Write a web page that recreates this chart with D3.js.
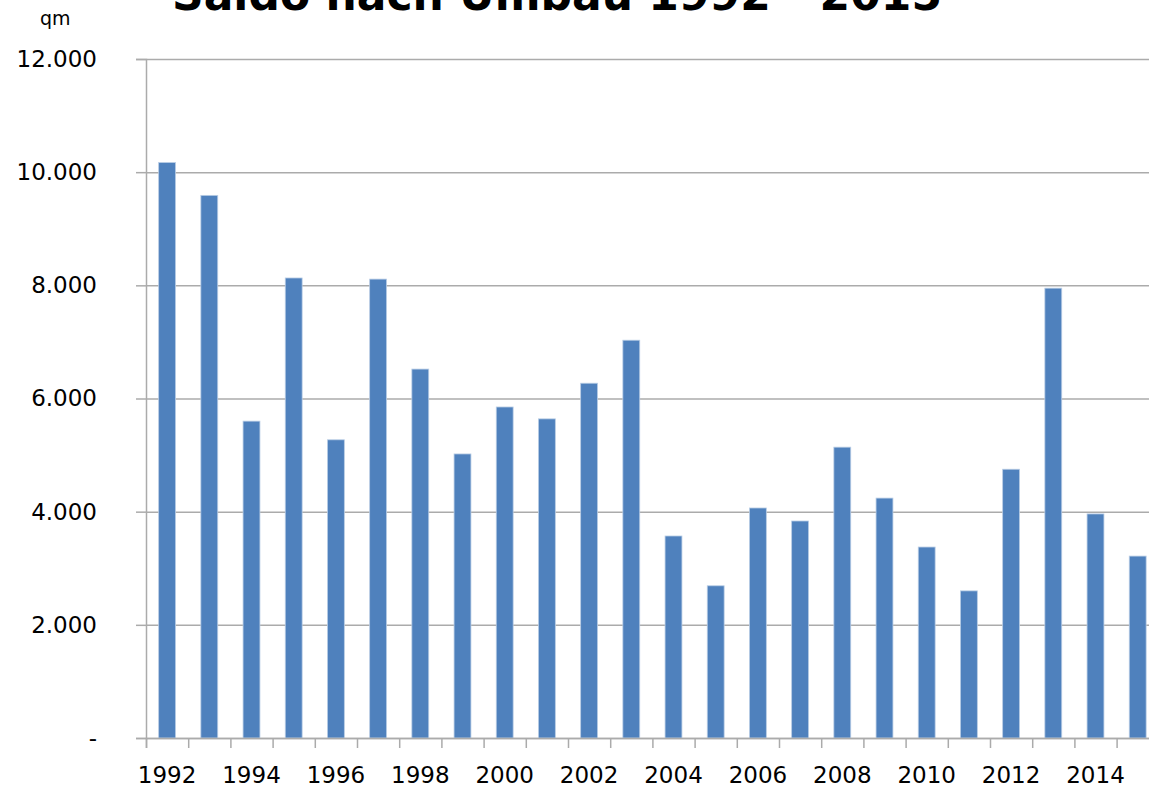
<!DOCTYPE html>
<html>
<head>
<meta charset="utf-8">
<script src="https://cdn.jsdelivr.net/npm/d3@7"></script>
<style>
  body { margin: 0; background: #fff; }
  svg { display: block; overflow: hidden; }
  svg text { font-family: 'DejaVu Sans', sans-serif; }
</style>
</head>
<body>
<svg id="chart"></svg>
<script>
// Daten (Saldo in qm)
var jahre = [1992, 1993, 1994, 1995, 1996, 1997, 1998, 1999, 2000, 2001, 2002, 2003,
             2004, 2005, 2006, 2007, 2008, 2009, 2010, 2011, 2012, 2013, 2014, 2015];
var saldo = [10170, 9590, 5600, 8130, 5270, 8110, 6520, 5020, 5850, 5640, 6270, 7030,
             3570, 2690, 4065, 3835, 5140, 4240, 3375, 2600, 4750, 7950, 3960, 3215];
var yTickWerte = [0, 2000, 4000, 6000, 8000, 10000, 12000];
var yTickTexte = ["-", "2.000", "4.000", "6.000", "8.000", "10.000", "12.000"];
var xBeschriftung = [1992, 1994, 1996, 1998, 2000, 2002, 2004, 2006, 2008, 2010, 2012, 2014];
var titel = "Saldo nach Umbau 1992 - 2015";
var einheit = "qm";

var breite = 1149,
    hoehe = 789;
var links = 146,
    oben = 59,
    unten = 738,
    schritt = 42.2,
    rechts = links + jahre.length * schritt;

var svg = d3.select("#chart")
    .attr("width", breite)
    .attr("height", hoehe);

// Skalen
var x = d3.scaleBand()
    .domain(jahre)
    .range([links, rechts])
    .paddingInner(0.6)
    .paddingOuter(0.3);
var xKante = d3.scaleLinear()
    .domain([0, jahre.length])
    .range([links, rechts]);
var y = d3.scaleLinear()
    .domain([0, 12000])
    .range([unten, oben]);

// Gitterlinien
var gitter = svg.append("g")
    .attr("transform", "translate(" + links + ",0)")
    .call(d3.axisLeft(y).tickValues(yTickWerte).tickSize(-(rechts - links)).tickFormat(""));
gitter.select(".domain").remove();
gitter.selectAll("line").attr("stroke", "#ababab").attr("stroke-width", 1.5);

// y-Achse mit Beschriftung
var yAchse = svg.append("g")
    .attr("transform", "translate(" + links + ",0)")
    .call(d3.axisLeft(y)
        .tickValues(yTickWerte)
        .tickSize(10)
        .tickPadding(39)
        .tickFormat(function (d, i) { return yTickTexte[i]; }));
yAchse.attr("font-family", null).attr("font-size", null);
yAchse.select(".domain").attr("stroke", "#ababab").attr("stroke-width", 1.5);
yAchse.selectAll("line").attr("stroke", "#ababab").attr("stroke-width", 1.5);
yAchse.selectAll("text")
    .attr("fill", "#000")
    .style("font-size", "23px");

// Balken
svg.append("g")
    .selectAll("rect")
    .data(saldo)
    .join("rect")
    .attr("x", function (d, i) { return x(jahre[i]); })
    .attr("y", function (d) { return y(d); })
    .attr("width", x.bandwidth())
    .attr("height", function (d) { return unten - y(d); })
    .attr("fill", "#4f81bd")
    .attr("stroke", "#b9cde5")
    .attr("stroke-width", 0.8);

// x-Achse: Striche an den Kategoriegrenzen
var xStriche = svg.append("g")
    .attr("transform", "translate(0," + unten + ")")
    .call(d3.axisBottom(xKante).tickValues(d3.range(jahre.length + 1)).tickSize(10).tickFormat(""));
xStriche.select(".domain").attr("stroke", "#ababab").attr("stroke-width", 1.5);
xStriche.selectAll("line").attr("stroke", "#ababab").attr("stroke-width", 1.5);

// x-Achse: Jahreszahlen
var xText = svg.append("g")
    .attr("transform", "translate(0," + unten + ")")
    .call(d3.axisBottom(x).tickValues(xBeschriftung).tickSize(0).tickPadding(29).tickFormat(String));
xText.attr("font-family", null).attr("font-size", null);
xText.select(".domain").remove();
xText.selectAll("text")
    .attr("fill", "#000")
    .style("font-size", "23px");

// Titel (oben angeschnitten)
svg.append("text")
    .attr("x", 172)
    .attr("y", 10)
    .attr("textLength", 770)
    .attr("lengthAdjust", "spacingAndGlyphs")
    .style("font-size", "44px")
    .style("font-weight", "bold")
    .text(titel);

// Einheit
svg.append("text")
    .attr("x", 40)
    .attr("y", 25)
    .style("font-size", "19px")
    .text(einheit);
</script>
</body>
</html>
